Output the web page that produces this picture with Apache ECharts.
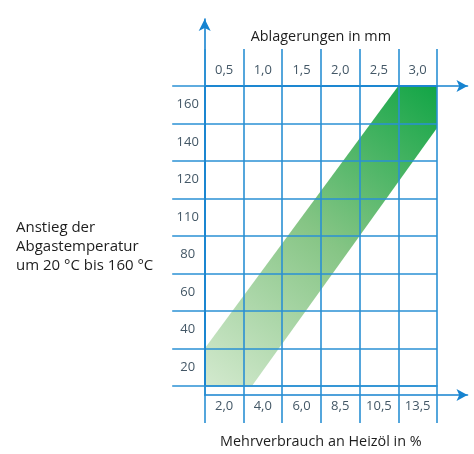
<!DOCTYPE html>
<html>
<head>
<meta charset="utf-8">
<script src="https://cdn.jsdelivr.net/npm/echarts@6/dist/echarts.min.js"></script>
<style>html,body{margin:0;padding:0;background:#fff}#c{width:474px;height:454px}</style>
</head>
<body>
<div id="c"></div>
<script>
// Data
const topLabels = ['0,5', '1,0', '1,5', '2,0', '2,5', '3,0'];            // Ablagerungen in mm
const bottomLabels = ['2,0', '4,0', '6,0', '8,5', '10,5', '13,5'];      // Mehrverbrauch an Heizöl in %
const yLabels = ['20', '40', '60', '80', '110', '120', '140', '160'];   // Anstieg der Abgastemperatur
// band outline in cell units (x: column 0..6, y: row 0..8)
const bandPolygon = [[0, 0], [0, 1.0], [5.0, 8], [6, 8], [6, 6.88], [1.22, 0]];

const topTitle = 'Ablagerungen in mm';
const bottomTitle = 'Mehrverbrauch an Heizöl in %';
const leftTitle = 'Anstieg der\nAbgastemperatur\num 20 °C bis 160 °C';

const LINE = '#2a90d4';
const ARROW = '#1683d0';
const LBL = '#435766';
const FONT = 'Open Sans';

const chart = echarts.init(document.getElementById('c'), null, {renderer: 'canvas'});
const lineStyle = {color: LINE, width: 1.6};

const option = {
  animation: false,
  textStyle: {fontFamily: FONT},
  title: {
    text: leftTitle, left: 16, top: 218, padding: 0,
    textStyle: {color: '#1d1d1d', fontSize: 15, lineHeight: 19, fontWeight: 'normal', fontFamily: FONT}
  },
  grid: [
    {left: 204.7, top: 86, right: 37, bottom: 59},
    {left: 204.7, top: 86, right: 6.5, bottom: 59},
    {left: 204.7, top: 19, right: 37, bottom: 59}
  ],
  xAxis: [
    {
      gridIndex: 0, type: 'category', position: 'bottom', data: bottomLabels, boundaryGap: true, z: 5,
      axisLine: {show: true, lineStyle},
      axisTick: {show: true, length: 37, interval: 0, lineStyle},
      axisLabel: {color: LBL, fontSize: 13, margin: 13.5, fontFamily: FONT, interval: 0},
      splitLine: {show: true, interval: 0, lineStyle},
      name: bottomTitle, nameLocation: 'middle', nameGap: 49,
      nameTextStyle: {color: '#1d1d1d', fontSize: 14.4, fontFamily: FONT}
    },
    {
      gridIndex: 0, type: 'category', position: 'top', data: topLabels, boundaryGap: true, z: 5,
      axisLine: {show: true, lineStyle},
      axisTick: {show: true, length: 37, interval: 0, lineStyle},
      axisLabel: {color: LBL, fontSize: 13, margin: 9, fontFamily: FONT, interval: 0},
      splitLine: {show: false},
      name: topTitle, nameLocation: 'middle', nameGap: 42,
      nameTextStyle: {color: '#1d1d1d', fontSize: 14.4, fontFamily: FONT}
    },
    {gridIndex: 0, type: 'value', min: 0, max: 6, show: false},
    {
      gridIndex: 1, type: 'value', position: 'bottom', min: 0, max: 1, z: 5,
      axisLine: {show: true, symbol: ['none', 'arrow'], symbolSize: [9, 11], lineStyle: {color: ARROW, width: 1.6}},
      axisTick: {show: false}, axisLabel: {show: false}, splitLine: {show: false}
    },
    {
      gridIndex: 1, type: 'value', position: 'top', min: 0, max: 1, z: 5,
      axisLine: {show: true, symbol: ['none', 'arrow'], symbolSize: [9, 11], lineStyle: {color: ARROW, width: 1.6}},
      axisTick: {show: false}, axisLabel: {show: false}, splitLine: {show: false}
    },
    {gridIndex: 2, type: 'value', min: 0, max: 1, show: false}
  ],
  yAxis: [
    {
      gridIndex: 0, type: 'category', position: 'left', data: yLabels, boundaryGap: true, z: 5,
      axisLine: {show: true, lineStyle},
      axisTick: {show: true, length: 32.5, interval: 0, lineStyle},
      axisLabel: {color: LBL, fontSize: 13, margin: 17, align: 'center', fontFamily: FONT, interval: 0},
      splitLine: {show: true, interval: 0, lineStyle}
    },
    {gridIndex: 0, type: 'value', min: 0, max: 8, show: false},
    {gridIndex: 1, type: 'value', min: 0, max: 1, show: false},
    {
      gridIndex: 2, type: 'value', position: 'left', min: 0, max: 1, z: 5,
      axisLine: {show: true, symbol: ['none', 'arrow'], symbolSize: [9, 12], lineStyle: {color: ARROW, width: 1.6}},
      axisTick: {show: false}, axisLabel: {show: false}, splitLine: {show: false}
    }
  ],
  series: [{
    type: 'custom',
    xAxisIndex: 2,
    yAxisIndex: 1,
    z: 1,
    clip: true,
    data: [0],
    renderItem: function (params, api) {
      const pts = bandPolygon.map(p => api.coord(p));
      return {
        type: 'polygon',
        shape: {points: pts},
        style: {
          fill: {
            type: 'linear', x: 0, y: 1, x2: 1, y2: 0,
            colorStops: [
              {offset: 0, color: '#d3e9ce'},
              {offset: 0.5, color: '#86c585'},
              {offset: 1, color: '#12a546'}
            ]
          }
        }
      };
    }
  }]
};
chart.setOption(option);
</script>
</body>
</html>
